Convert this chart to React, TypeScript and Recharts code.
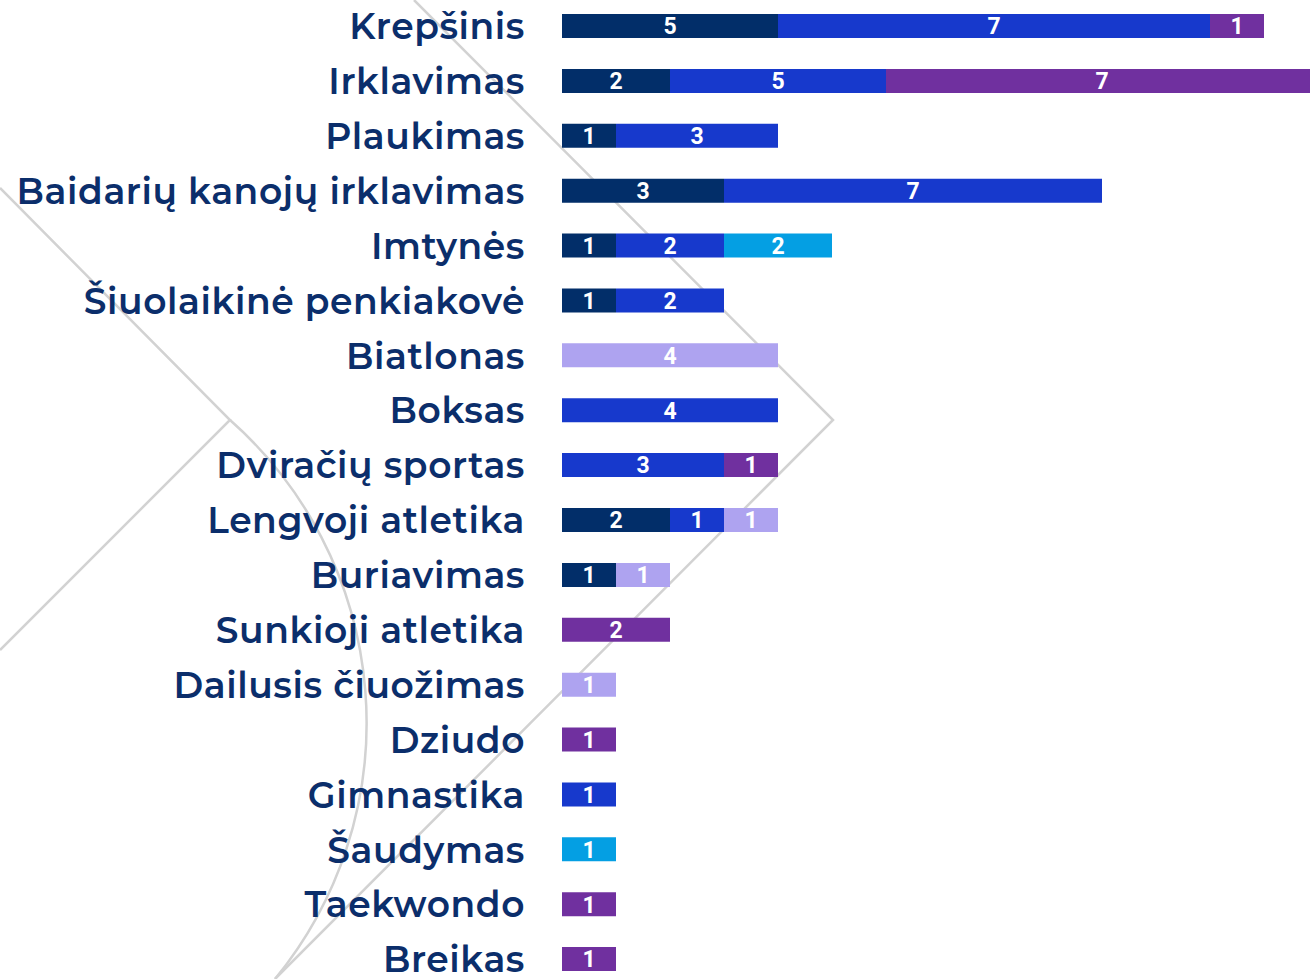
import React from 'react';
import { BarChart, Bar, XAxis, YAxis, LabelList } from 'recharts';

const categories = [
  'Krepšinis',
  'Irklavimas',
  'Plaukimas',
  'Baidarių kanojų irklavimas',
  'Imtynės',
  'Šiuolaikinė penkiakovė',
  'Biatlonas',
  'Boksas',
  'Dviračių sportas',
  'Lengvoji atletika',
  'Buriavimas',
  'Sunkioji atletika',
  'Dailusis čiuožimas',
  'Dziudo',
  'Gimnastika',
  'Šaudymas',
  'Taekwondo',
  'Breikas',
];

// bar lengths as drawn
const navy = [4, 2, 1, 3, 1, 1, 0, 0, 0, 2, 1, 0, 0, 0, 0, 0, 0, 0];
const blue = [8, 4, 3, 7, 2, 2, 0, 4, 3, 1, 0, 0, 0, 0, 1, 0, 0, 0];
const cyan = [0, 0, 0, 0, 2, 0, 0, 0, 0, 0, 0, 0, 0, 0, 0, 1, 0, 0];
const lavender = [0, 0, 0, 0, 0, 0, 4, 0, 0, 1, 1, 0, 1, 0, 0, 0, 0, 0];
const purple = [1, 8, 0, 0, 0, 0, 0, 0, 1, 0, 0, 2, 0, 1, 0, 0, 1, 1];

// numbers printed on the bars (they don't always match the lengths)
const navyLabels = [5, 2, 1, 3, 1, 1, 0, 0, 0, 2, 1, 0, 0, 0, 0, 0, 0, 0];
const blueLabels = [7, 5, 3, 7, 2, 2, 0, 4, 3, 1, 0, 0, 0, 0, 1, 0, 0, 0];
const purpleLabels = [1, 7, 0, 0, 0, 0, 0, 0, 1, 0, 0, 2, 0, 1, 0, 0, 1, 1];

const data = categories.map((name, i) => ({
  name,
  navy: navy[i],
  blue: blue[i],
  cyan: cyan[i],
  lavender: lavender[i],
  purple: purple[i],
  navyLabel: navyLabels[i],
  blueLabel: blueLabels[i],
  cyanLabel: cyan[i],
  lavenderLabel: lavender[i],
  purpleLabel: purpleLabels[i],
}));

const TEXT = '#0b2e6b';

const labelOf = (key: string) => (entry: any) =>
  entry?.payload?.[key] ?? entry?.[key];

const renderLabel = (props: any) => {
  const { x, y, width, height, value } = props;
  if (!value || !width) return null;
  return (
    <text
      x={Number(x) + Number(width) / 2}
      y={Number(y) + Number(height) / 2}
      dy="0.36em"
      textAnchor="middle"
      fill="#ffffff"
      fontSize={23}
      fontWeight={700}
      fontFamily="Roboto, sans-serif"
    >
      {value}
    </text>
  );
};

const Decor = () => (
  <svg
    width={1310}
    height={979}
    style={{ position: 'absolute', left: 0, top: 0 }}
  >
    <g fill="none" stroke="#d2d2d2" strokeWidth={2.5}>
      <path d="M414 0 L833 420 L275 979" />
      <path d="M0 188 L230 420 L0 650" />
      <path d="M230 420 A404 404 0 0 1 275 979" />
    </g>
  </svg>
);

const series = [
  { key: 'navy', color: '#022e69' },
  { key: 'blue', color: '#1739cc' },
  { key: 'cyan', color: '#049fe3' },
  { key: 'lavender', color: '#aea3f0' },
  { key: 'purple', color: '#70309f' },
];

export default function App() {
  return (
    <div
      style={{
        position: 'absolute',
        left: 0,
        top: 0,
        width: 1310,
        height: 979,
        overflow: 'hidden',
        background: '#ffffff',
      }}
    >
      <Decor />
      <div style={{ position: 'absolute', left: 0, top: -1 }}>
        <BarChart
          width={1318}
          height={988}
          data={data}
          layout="vertical"
          barSize={24}
          margin={{ top: 0, right: 0, bottom: 0, left: 0 }}
        >
          <XAxis type="number" domain={[0, 14]} hide />
          <YAxis
            type="category"
            dataKey="name"
            width={562}
            axisLine={false}
            tickLine={false}
            tickSize={0}
            tickMargin={37}
            interval={0}
            tick={{
              fill: TEXT,
              fontSize: 36,
              fontWeight: 600,
              letterSpacing: 0.6,
              fontFamily: 'Montserrat, "Open Sans", sans-serif',
            }}
          />
          {series.map((s) => (
            <Bar
              key={s.key}
              dataKey={s.key}
              stackId="a"
              fill={s.color}
              isAnimationActive={false}
            >
              <LabelList
                valueAccessor={labelOf(s.key + 'Label')}
                content={renderLabel}
              />
            </Bar>
          ))}
        </BarChart>
      </div>
    </div>
  );
}
